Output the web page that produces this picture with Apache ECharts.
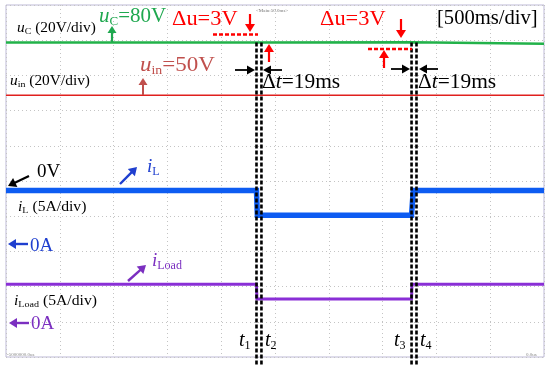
<!DOCTYPE html>
<html><head><meta charset="utf-8">
<script src="https://cdn.jsdelivr.net/npm/echarts@6/dist/echarts.min.js"></script>
<style>html,body{margin:0;padding:0;background:#fff}#c{width:550px;height:365px}</style>
</head><body><div id="c"></div>
<script>
// ---- data (time in ms, 500 ms/div, 10 divisions) ----
const ucTime    = [0, 2328, 2340, 3769, 3785, 5000];
const ucVolt    = [80, 80, 80.2, 80.2, 79.3, 79.3];
const uinTime   = [0, 5000];
const uinVolt   = [50, 50];
const iLTime    = [0, 2328, 2336, 3769, 3785, 5000];
const iLAmp     = [7.6, 7.6, 4.1, 4.1, 7.6, 7.6];
const iLoadTime = [0, 2328, 2332, 3769, 3773, 5000];
const iLoadAmp  = [5.5, 5.5, 3.4, 3.4, 5.5, 5.5];
const markerTimes  = [2328, 2374, 3769, 3815];
const markerLabels = ['1', '2', '3', '4'];

// channel settings: ground offset (div) and scale (unit/div)
const chV   = {offset: 4.935, scale: 20};
const chIL  = {offset: 3.21, scale: 5};
const chILd = {offset: 0.966, scale: 5};

function toDiv(times, vals, ch) { return times.map((t, i) => [t, ch.offset + vals[i] / ch.scale]); }

const FONT = 'Liberation Serif, Times New Roman, serif';
function rt(x, y, parts, size, color, sx) {
  const rich = {
    n:  {fontSize: size, fontFamily: FONT, fill: color, lineHeight: size * 1.15},
    it: {fontSize: size, fontFamily: FONT, fontStyle: 'italic', fill: color, lineHeight: size * 1.15},
    sb: {fontSize: Math.round(size * 0.62), fontFamily: FONT, fill: color, verticalAlign: 'bottom', lineHeight: size * 1.15}
  };
  const text = parts.map(p => '{' + p[1] + '|' + p[0] + '}').join('');
  return {type: 'text', x: x, y: y, z: 100, scaleX: sx || 1,
    style: {text: text, rich: rich, fill: color, font: size + 'px ' + FONT, align: 'left', verticalAlign: 'top'}};
}
function arrow(x1, y1, x2, y2, color, w, hl, hw) {
  const dx = x2 - x1, dy = y2 - y1, L = Math.hypot(dx, dy), ux = dx / L, uy = dy / L;
  const bx = x2 - ux * hl, by = y2 - uy * hl, px = -uy, py = ux;
  return [
    {type: 'line', z: 100, shape: {x1: x1, y1: y1, x2: bx + ux, y2: by + uy}, style: {stroke: color, lineWidth: w}},
    {type: 'polygon', z: 100, shape: {points: [[x2, y2], [bx + px * hw, by + py * hw], [bx - px * hw, by - py * hw]]}, style: {fill: color}}
  ];
}

const chart = echarts.init(document.getElementById('c'), null, {renderer: 'canvas'});
const grid = {left: 6, right: 6, top: 5, bottom: 8, show: true, borderColor: '#bdb9d6', borderWidth: 1, containLabel: false, outerBoundsMode: 'none'};
const split = {show: true, lineStyle: {color: '#c4c4c4', type: [1, 3], width: 1}};
chart.setOption({
  animation: false,
  backgroundColor: '#fff',
  grid: grid,
  xAxis: {type: 'value', min: 0, max: 5000, interval: 500, axisLine: {show: false}, axisTick: {show: false}, axisLabel: {show: false}, splitLine: split},
  yAxis: {type: 'value', min: 0, max: 10, interval: 1, axisLine: {show: false}, axisTick: {show: false}, axisLabel: {show: false}, splitLine: split},
  series: [
    {type: 'line', data: toDiv(uinTime, uinVolt, chV), symbol: 'none', lineStyle: {color: '#e0201e', width: 1.5}},
    {type: 'line', data: toDiv(ucTime, ucVolt, chV), symbol: 'none', lineStyle: {color: '#22b24a', width: 2.5}},
    {type: 'line', data: toDiv(iLTime, iLAmp, chIL), symbol: 'none', lineStyle: {color: '#0d5cf2', width: 5.5, join: 'miter', cap: 'butt'}},
    {type: 'line', data: toDiv(iLoadTime, iLoadAmp, chILd), symbol: 'none', lineStyle: {color: '#8a2fd6', width: 3, join: 'miter', cap: 'butt'}}
  ]
});

const g = [];
// dashed markers
markerTimes.forEach((t, i) => {
  const p = chart.convertToPixel({gridIndex: 0}, [t, chV.offset + 80 / 20]);
  g.push({type: 'line', z: 90, shape: {x1: p[0], y1: p[1], x2: p[0], y2: 365}, style: {stroke: '#000', lineWidth: 2.6, lineDash: [4, 2]}});
  const xs = [239, 265, 394, 420][i];
  g.push(rt(xs, 329, [['t', 'it'], [markerLabels[i], 'sb']], 20, '#000'));
});

// texts
g.push(rt(17, 20, [['u', 'it'], ['C', 'sb'], [' (20V/div)', 'n']], 14, '#000', 1.1));
g.push(rt(99, 4, [['u', 'it'], ['C', 'sb'], ['=80V', 'n']], 21, '#1fa84f'));
g.push(rt(172, 8, [['\u0394u=3V', 'n']], 20, '#ff0000', 1.12));
g.push(rt(320, 8, [['\u0394u=3V', 'n']], 20, '#ff0000', 1.12));
g.push(rt(256, 8, [['<Main:50.0ms>', 'n']], 5, '#777'));
g.push(rt(437, 7, [['[500ms/div]', 'n']], 20, '#000', 1.03));
g.push(rt(10, 73, [['u', 'it'], ['in', 'sb'], [' (20V/div)', 'n']], 14, '#000', 1.1));
g.push(rt(140, 54, [['u', 'it'], ['in', 'sb'], ['=50V', 'n']], 20, '#c0504d', 1.15));
g.push(rt(262, 71, [['\u0394', 'n'], ['t', 'it'], ['=19ms', 'n']], 20, '#000', 1.07));
g.push(rt(418, 71, [['\u0394', 'n'], ['t', 'it'], ['=19ms', 'n']], 20, '#000', 1.07));
g.push(rt(37, 161, [['0V', 'n']], 19, '#000'));
g.push(rt(147, 156, [['i', 'it'], ['L', 'sb']], 19, '#1f3fcf'));
g.push(rt(18, 199, [['i', 'it'], ['L', 'sb'], [' (5A/div)', 'n']], 14, '#000', 1.12));
g.push(rt(30, 235, [['0A', 'n']], 19, '#1f3fcf'));
g.push(rt(152, 250, [['i', 'it'], ['Load', 'sb']], 19, '#7b2fc0'));
g.push(rt(14, 293, [['i', 'it'], ['Load', 'sb'], [' (5A/div)', 'n']], 14, '#000', 1.12));
g.push(rt(31, 313, [['0A', 'n']], 19, '#7b2fc0'));
g.push(rt(7, 352, [['-5000000.0us', 'n']], 5, '#888'));
g.push(rt(526, 352, [['0.0us', 'n']], 5, '#888'));

// arrows
g.push(...arrow(112, 42, 112, 26, '#1fa84f', 2.2, 7, 4.5));
g.push(...arrow(250, 14, 250, 32, '#ff0000', 2.2, 8, 5));
g.push({type: 'line', z: 100, shape: {x1: 213, y1: 34.5, x2: 258, y2: 34.5}, style: {stroke: '#ff0000', lineWidth: 2.4, lineDash: [4, 2]}});
g.push(...arrow(269, 62, 269, 44, '#ff0000', 2.2, 8, 5));
g.push(...arrow(401, 19, 401, 38, '#ff0000', 2.2, 8, 5));
g.push({type: 'line', z: 100, shape: {x1: 368, y1: 49, x2: 412, y2: 49}, style: {stroke: '#ff0000', lineWidth: 2.4, lineDash: [4, 2]}});
g.push(...arrow(384, 68, 384, 50, '#ff0000', 2.2, 8, 5));
g.push(...arrow(235, 70, 255, 70, '#000', 1.8, 8, 4.5));
g.push(...arrow(282, 70, 263, 70, '#000', 1.8, 8, 4.5));
g.push(...arrow(391, 69, 410, 69, '#000', 1.8, 8, 4.5));
g.push(...arrow(438, 69, 419, 69, '#000', 1.8, 8, 4.5));
g.push(...arrow(143, 95, 143, 78, '#c0504d', 2, 7, 4.5));
g.push(...arrow(29, 176, 8, 186, '#000', 2.2, 8, 5));
g.push(...arrow(120, 184, 137, 167, '#1f3fcf', 2.4, 8, 5));
g.push(...arrow(28, 244, 8, 244, '#1f3fcf', 2.4, 8, 5));
g.push(...arrow(128, 281, 146, 265, '#7b2fc0', 2.4, 8, 5));
g.push(...arrow(29, 323, 9, 323, '#7b2fc0', 2.4, 8, 5));

chart.setOption({graphic: {elements: g}});
</script>
</body></html>
